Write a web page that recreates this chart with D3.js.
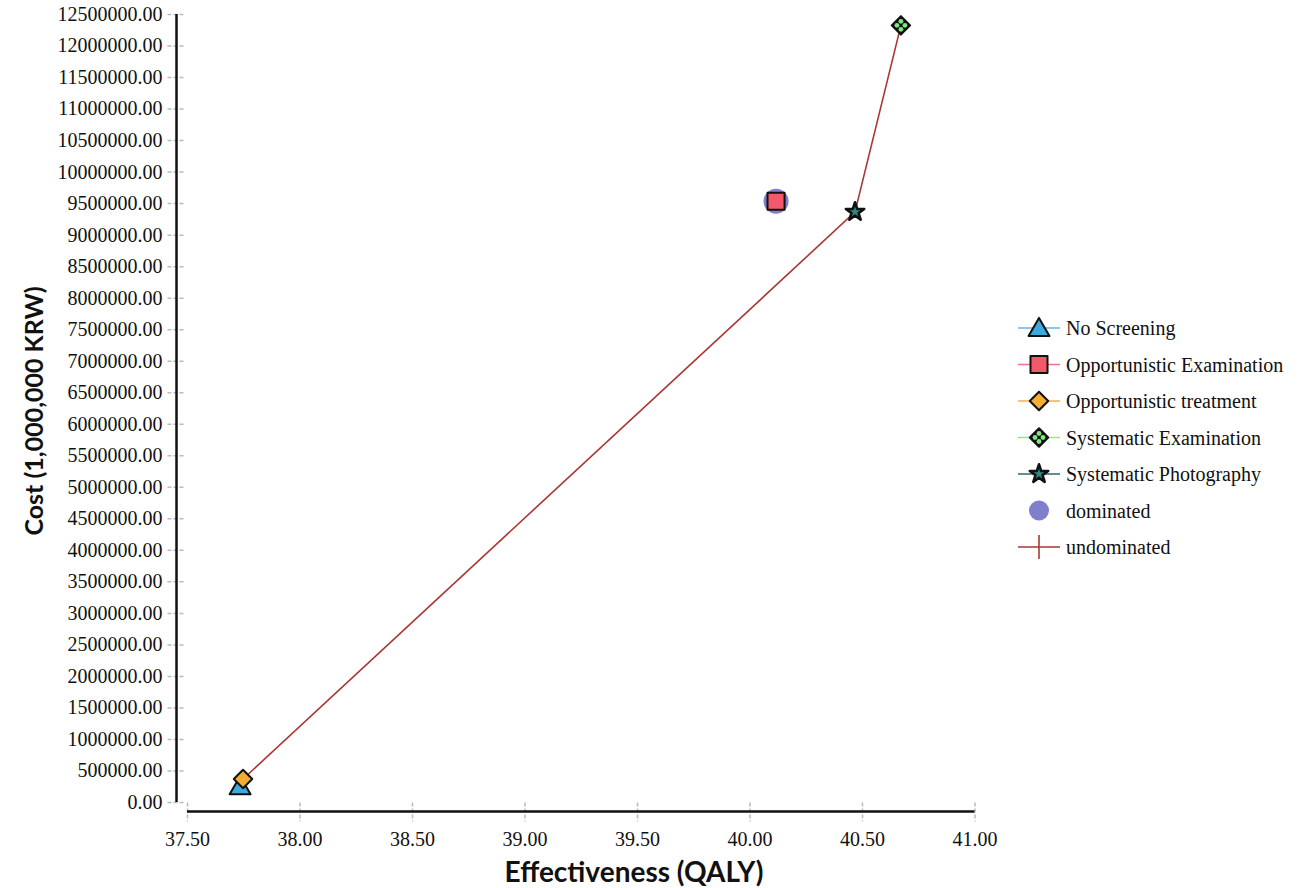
<!DOCTYPE html>
<html>
<head>
<meta charset="utf-8">
<script src="https://cdn.jsdelivr.net/npm/d3@7"></script>
<style>
  body { margin: 0; background: #fff; }
  svg text { fill: #111; }
  .tick text { font-family: "Liberation Serif", "DejaVu Serif", serif; font-size: 20px; }
  .legend text { font-family: "Liberation Serif", serif; font-size: 20px; }
  .title { font-family: Lato, "Open Sans", sans-serif; font-weight: bold; }
</style>
</head>
<body>
<svg id="chart" width="1303" height="888"></svg>
<script>
// strategies and their (QALY, cost) results
const strategies = ["No Screening", "Opportunistic Examination", "Opportunistic treatment", "Systematic Examination", "Systematic Photography"];
const qaly = [37.736, 40.118, 37.749, 40.673, 40.469];
const cost = [250000, 9530000, 365000, 12320000, 9360000];

const dominated = ["Opportunistic Examination"];
const undominated = ["No Screening", "Opportunistic treatment", "Systematic Photography", "Systematic Examination"];

const xTicks = [37.5, 38, 38.5, 39, 39.5, 40, 40.5, 41];
const yTicks = d3.range(0, 12500001, 500000);

const legendLabels = ["No Screening", "Opportunistic Examination", "Opportunistic treatment", "Systematic Examination", "Systematic Photography", "dominated", "undominated"];

const fills = {
  "No Screening": "#3ea8df",
  "Opportunistic Examination": "#f25a6c",
  "Opportunistic treatment": "#f2ad32",
  "Systematic Examination": "#7ee87e",
  "Systematic Photography": "#2c8a86"
};
const legendLine = {
  "No Screening": "#64b5e6",
  "Opportunistic Examination": "#ef7384",
  "Opportunistic treatment": "#f3b24a",
  "Systematic Examination": "#86ee86",
  "Systematic Photography": "#2f6868"
};
const domColor = "#7f7fcc";
const undomColor = "#aa3636";

const svg = d3.select("#chart");

const x = d3.scaleLinear().domain([37.5, 41]).range([187, 974.5]);
const y = d3.scaleLinear().domain([0, 12500000]).range([802, 14]);

// y axis (offset to the left of the plot, SPSS style)
const yAxisX = 176.5;
const gy = svg.append("g")
  .attr("transform", `translate(${yAxisX},0)`)
  .call(d3.axisLeft(y).tickValues(yTicks).tickFormat(d => d.toFixed(2)).tickSize(0).tickPadding(14));
gy.select(".domain").remove();
gy.selectAll(".tick line").attr("x1", -9).attr("x2", 9)
  .attr("stroke", "#bbb").attr("stroke-width", 1.5).attr("stroke-dasharray", "4,2");
gy.append("line").attr("x1", 0).attr("x2", 0).attr("y1", y(12500000)).attr("y2", y(0))
  .attr("stroke", "#111").attr("stroke-width", 2.5);

// x axis
const xAxisY = 811.5;
const gx = svg.append("g")
  .attr("transform", `translate(0,${xAxisY})`)
  .call(d3.axisBottom(x).tickValues(xTicks).tickFormat(d => d.toFixed(2)).tickSize(0).tickPadding(20));
gx.select(".domain").remove();
gx.selectAll(".tick line").attr("y1", -9).attr("y2", 10)
  .attr("stroke", "#bbb").attr("stroke-width", 1.5).attr("stroke-dasharray", "4,2");
gx.append("line").attr("x1", x(37.5)).attr("x2", x(41)).attr("y1", 0).attr("y2", 0)
  .attr("stroke", "#111").attr("stroke-width", 2.5);

// axis titles
svg.append("text").attr("class", "title")
  .attr("x", 634).attr("y", 882).attr("text-anchor", "middle")
  .style("font-size", "28px")
  .text("Effectiveness (QALY)");
svg.append("text").attr("class", "title")
  .attr("transform", "translate(43,411) rotate(-90)").attr("text-anchor", "middle")
  .style("font-size", "25px")
  .text("Cost (1,000,000 KRW)");

const pts = strategies.map((s, i) => ({ name: s, qaly: qaly[i], cost: cost[i] }));
const byName = Object.fromEntries(pts.map(d => [d.name, d]));

// undominated frontier
const line = d3.line().x(d => x(d.qaly)).y(d => y(d.cost));
svg.append("path")
  .attr("d", line(undominated.map(n => byName[n])))
  .attr("fill", "none").attr("stroke", undomColor).attr("stroke-width", 1.6);

// dominated halo
svg.selectAll(".dom").data(dominated.map(n => byName[n])).join("circle")
  .attr("cx", d => x(d.qaly)).attr("cy", d => y(d.cost)).attr("r", 12.5)
  .attr("fill", domColor);

function symbolFor(name) {
  if (name === "No Screening") return d3.symbol(d3.symbolTriangle, 190)();
  if (name === "Opportunistic Examination") return d3.symbol(d3.symbolSquare, 290)();
  if (name === "Systematic Photography") return d3.symbol(d3.symbolStar, 105)();
  return d3.symbol(d3.symbolSquare, 170)(); // diamonds (rotated)
}
function rot(name) {
  return (name === "Opportunistic treatment" || name === "Systematic Examination") ? 45 : 0;
}

function drawMarker(g, name) {
  const dy = name === "No Screening" ? 2 : 0;
  g.append("path")
    .attr("d", symbolFor(name))
    .attr("transform", `translate(0,${dy}) rotate(${rot(name)})`)
    .attr("fill", name === "Systematic Examination" ? "#111" : fills[name])
    .attr("stroke", "#111").attr("stroke-width", name === "Systematic Photography" ? 2.6 : 2)
    .attr("stroke-linejoin", "round");
  if (name === "Systematic Examination") {
    [[0, -4], [4, 0], [0, 4], [-4, 0]].forEach(([dx, dy2]) => {
      g.append("circle").attr("cx", dx).attr("cy", dy2).attr("r", 2.4).attr("fill", fills[name]);
    });
  }
}

// markers, drawn so the diamond sits on top of the triangle
const order = ["No Screening", "Opportunistic treatment", "Opportunistic Examination", "Systematic Photography", "Systematic Examination"];
order.forEach(n => {
  const d = byName[n];
  const g = svg.append("g").attr("transform", `translate(${x(d.qaly)},${y(d.cost)})`);
  drawMarker(g, n);
});

// legend
const legend = svg.append("g").attr("class", "legend");
legendLabels.forEach((lab, i) => {
  const cy = 328 + i * 36.5;
  const g = legend.append("g").attr("transform", `translate(1039,${cy})`);
  if (lab === "dominated") {
    g.append("circle").attr("r", 10).attr("fill", domColor);
  } else if (lab === "undominated") {
    g.append("line").attr("x1", -21).attr("x2", 21).attr("stroke", undomColor).attr("stroke-width", 1.6);
    g.append("line").attr("y1", -12).attr("y2", 12).attr("stroke", undomColor).attr("stroke-width", 1.6);
  } else {
    g.append("line").attr("x1", -21).attr("x2", 21).attr("stroke", legendLine[lab]).attr("stroke-width", 1.6);
    drawMarker(g, lab);
  }
  g.append("text").attr("x", 27).attr("dy", "0.35em").text(lab);
});
</script>
</body>
</html>
